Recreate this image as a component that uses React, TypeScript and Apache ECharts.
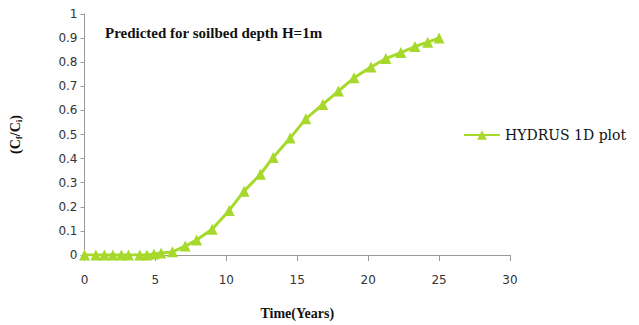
import React, { useEffect, useRef } from "react";
import * as echarts from "echarts";

const timeYears = [0, 0.8, 1.4, 2, 2.6, 3.1, 3.9, 4.4, 4.9, 5.4, 6.2, 7.1, 7.9, 9.0, 10.2, 11.25, 12.4, 13.3, 14.5, 15.6, 16.8, 17.9, 19.0, 20.2, 21.25, 22.3, 23.3, 24.2, 25.0];
const ratio = [0, 0, 0, 0, 0, 0, 0, 0, 0.004, 0.008, 0.013, 0.037, 0.062, 0.107, 0.185, 0.265, 0.335, 0.405, 0.485, 0.565, 0.625, 0.68, 0.735, 0.78, 0.815, 0.84, 0.865, 0.883, 0.9];
const seriesName = "HYDRUS 1D plot";
const titleText = "Predicted for soilbed depth H=1m";
const lime = "#A6D92C";

export default function App() {
  const ref = useRef<HTMLDivElement>(null);
  useEffect(() => {
    const chart = echarts.init(ref.current!, null, { renderer: "svg" });
    const data = timeYears.map((t, i) => [t, ratio[i]]);
    chart.setOption({
      animation: false,
      backgroundColor: "#ffffff",
      title: {
        text: titleText,
        left: 100,
        top: 20,
        textStyle: { fontFamily: "Liberation Serif", fontWeight: "bold", fontSize: 15, color: "#111" },
      },
      legend: {
        data: [seriesName],
        left: 458,
        top: 123,
        itemWidth: 36,
        itemHeight: 12,
        itemGap: 4,
        textStyle: { fontFamily: "DejaVu Serif", fontSize: 14, color: "#111" },
      },
      grid: { left: 78, right: 129, top: 14, bottom: 69, containLabel: false },
      xAxis: {
        type: "value",
        min: 0,
        max: 30,
        interval: 5,
        name: "Time(Years)",
        nameLocation: "middle",
        nameGap: 51,
        nameTextStyle: { fontFamily: "Liberation Serif", fontWeight: "bold", fontSize: 14, color: "#111" },
        axisLine: { show: true, lineStyle: { color: "#9a9a9a", width: 1 } },
        axisTick: { show: true, length: 6, lineStyle: { color: "#9a9a9a" } },
        axisLabel: { margin: 19, fontFamily: "DejaVu Sans", fontSize: 12, color: "#333" },
        splitLine: { show: false },
      },
      yAxis: {
        type: "value",
        min: 0,
        max: 1,
        interval: 0.1,
        name: "(C{s|f}/C{s|i})",
        nameLocation: "middle",
        nameRotate: 90,
        nameGap: 61,
        nameTextStyle: {
          fontFamily: "Liberation Serif",
          fontWeight: "bold",
          fontSize: 14,
          color: "#111",
          rich: {
            s: { fontFamily: "Liberation Serif", fontWeight: "bold", fontSize: 9, color: "#111", verticalAlign: "bottom", padding: [8, 0, 0, 0] },
          },
        },
        axisLine: { show: true, lineStyle: { color: "#9a9a9a", width: 1 } },
        axisTick: { show: true, length: 4, lineStyle: { color: "#9a9a9a" } },
        axisLabel: {
          margin: 7,
          fontFamily: "DejaVu Sans",
          fontSize: 12,
          color: "#333",
          formatter: (v: number) => String(Math.round(v * 10) / 10),
        },
        splitLine: { show: false },
      },
      series: [
        {
          name: seriesName,
          type: "line",
          data,
          symbol: "triangle",
          symbolSize: 11,
          showSymbol: true,
          lineStyle: { color: lime, width: 3 },
          itemStyle: { color: lime },
        },
      ],
    });
    return () => chart.dispose();
  }, []);
  return <div ref={ref} style={{ position: "absolute", left: 0, top: 0, width: 639, height: 325 }} />;
}
